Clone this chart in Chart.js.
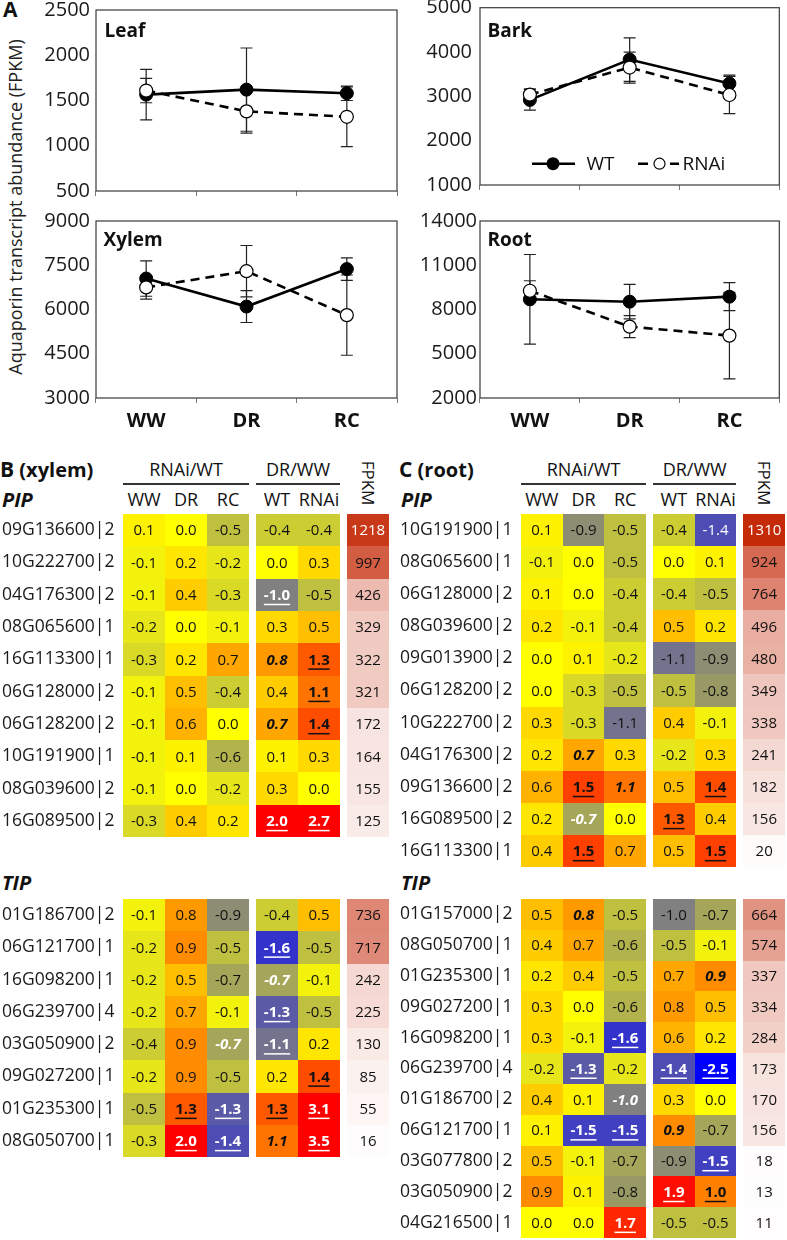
<!DOCTYPE html>
<html>
<head>
<meta charset="utf-8">
<title>Aquaporin transcript abundance</title>
<script src="https://cdn.jsdelivr.net/npm/chart.js@4.4.1/dist/chart.umd.min.js"></script>
<style>
  html, body { margin: 0; padding: 0; background: #fff; }
  body { position: relative; width: 787px; height: 1240px; overflow: hidden; font-family: "Open Sans", sans-serif; color: #111; }
  canvas { position: absolute; }
  .t { position: absolute; line-height: 1; white-space: nowrap; }
  .b { font-weight: bold; }
</style>
</head>
<body>
<!-- panel A -->
<div class="t b" style="left:3px;top:-1px;font-size:21px">A</div>
<div class="t" style="left:15px;top:207px;font-size:18px;color:#222;transform:translate(-50%,-50%) rotate(-90deg)">Aquaporin transcript abundance (FPKM)</div>
<canvas id="leaf" width="385" height="200" style="left:20px;top:0px"></canvas>
<canvas id="bark" width="383" height="200" style="left:404px;top:0px"></canvas>
<canvas id="xylem" width="385" height="235" style="left:20px;top:205px"></canvas>
<canvas id="root" width="383" height="235" style="left:404px;top:205px"></canvas>
<div class="t b" style="left:104.5px;top:21px;font-size:19px">Leaf</div>
<div class="t b" style="left:487.5px;top:21px;font-size:19px">Bark</div>
<div class="t b" style="left:103.5px;top:229.5px;font-size:19px">Xylem</div>
<div class="t b" style="left:487.5px;top:229.5px;font-size:19px">Root</div>
<div class="t" style="left:586.5px;top:153.5px;font-size:19px">WT</div>
<div class="t" style="left:682.5px;top:153.5px;font-size:19px">RNAi</div>

<!-- panels B and C -->
<div class="t b" style="left:0px;top:459px;font-size:20px"><span style="font-size:21px">B</span> (xylem)</div>
<div class="t b" style="left:399px;top:459px;font-size:20px"><span style="font-size:21px">C</span> (root)</div>
<div class="t b" style="left:2px;top:489.5px;font-size:20px;font-style:italic">PIP</div>
<div class="t b" style="left:401px;top:489.5px;font-size:20px;font-style:italic">PIP</div>
<div class="t b" style="left:2px;top:872.5px;font-size:20px;font-style:italic">TIP</div>
<div class="t b" style="left:401px;top:872.5px;font-size:20px;font-style:italic">TIP</div>
<canvas id="xylemPip" width="395" height="327" style="left:0px;top:512px"></canvas>
<canvas id="rootPip" width="389" height="357" style="left:398px;top:512px"></canvas>
<canvas id="xylemTip" width="395" height="262" style="left:0px;top:897px"></canvas>
<canvas id="rootTip" width="389" height="343" style="left:398px;top:897px"></canvas>

<script>
// ---- panel A data (FPKM, mean and error) ----
const stages = ['WW', 'DR', 'RC'];

const leafWT = [1565, 1620, 1580];
const leafWTErr = [280, 460, 80];
const leafRNAi = [1610, 1380, 1320];
const leafRNAiErr = [135, 240, 330];

const barkWT = [2920, 3830, 3290];
const barkWTErr = [230, 490, 190];
const barkRNAi = [3040, 3650, 3030];
const barkRNAiErr = [130, 350, 420];

const xylemWT = [7050, 6100, 7370];
const xylemWTErr = [600, 540, 380];
const xylemRNAi = [6750, 7300, 5810];
const xylemRNAiErr = [400, 870, 1360];

const rootWT = [8690, 8530, 8870];
const rootWTErr = [3040, 1170, 950];
const rootRNAi = [9270, 6840, 6230];
const rootRNAiErr = [680, 750, 2930];

// ---- panels B / C data: log2 ratios [RNAi/WT: WW, DR, RC | DR/WW: WT, RNAi], FPKM ----
// marks: '.' plain, 'b' bold underlined, 'i' bold italic
const ratioCols = ['WW', 'DR', 'RC', 'WT', 'RNAi'];

const xylemPipGenes = ['09G136600|2', '10G222700|2', '04G176300|2', '08G065600|1', '16G113300|1',
  '06G128000|2', '06G128200|2', '10G191900|1', '08G039600|2', '16G089500|2'];
const xylemPipRatios = [
  [0.1, 0.0, -0.5, -0.4, -0.4],
  [-0.1, 0.2, -0.2, 0.0, 0.3],
  [-0.1, 0.4, -0.3, -1.0, -0.5],
  [-0.2, 0.0, -0.1, 0.3, 0.5],
  [-0.3, 0.2, 0.7, 0.8, 1.3],
  [-0.1, 0.5, -0.4, 0.4, 1.1],
  [-0.1, 0.6, 0.0, 0.7, 1.4],
  [-0.1, 0.1, -0.6, 0.1, 0.3],
  [-0.1, 0.0, -0.2, 0.3, 0.0],
  [-0.3, 0.4, 0.2, 2.0, 2.7]
];
const xylemPipMarks = ['.....', '.....', '...b.', '.....', '...ib', '....b', '...ib', '.....', '.....', '...bb'];
const xylemPipFpkm = [1218, 997, 426, 329, 322, 321, 172, 164, 155, 125];

const xylemTipGenes = ['01G186700|2', '06G121700|1', '16G098200|1', '06G239700|4', '03G050900|2',
  '09G027200|1', '01G235300|1', '08G050700|1'];
const xylemTipRatios = [
  [-0.1, 0.8, -0.9, -0.4, 0.5],
  [-0.2, 0.9, -0.5, -1.6, -0.5],
  [-0.2, 0.5, -0.7, -0.7, -0.1],
  [-0.2, 0.7, -0.1, -1.3, -0.5],
  [-0.4, 0.9, -0.7, -1.1, 0.2],
  [-0.2, 0.9, -0.5, 0.2, 1.4],
  [-0.5, 1.3, -1.3, 1.3, 3.1],
  [-0.3, 2.0, -1.4, 1.1, 3.5]
];
const xylemTipMarks = ['.....', '...b.', '...i.', '...b.', '..ib.', '....b', '.bbbb', '.bbib'];
const xylemTipFpkm = [736, 717, 242, 225, 130, 85, 55, 16];

const rootPipGenes = ['10G191900|1', '08G065600|1', '06G128000|2', '08G039600|2', '09G013900|2',
  '06G128200|2', '10G222700|2', '04G176300|2', '09G136600|2', '16G089500|2', '16G113300|1'];
const rootPipRatios = [
  [0.1, -0.9, -0.5, -0.4, -1.4],
  [-0.1, 0.0, -0.5, 0.0, 0.1],
  [0.1, 0.0, -0.4, -0.4, -0.5],
  [0.2, -0.1, -0.4, 0.5, 0.2],
  [0.0, 0.1, -0.2, -1.1, -0.9],
  [0.0, -0.3, -0.5, -0.5, -0.8],
  [0.3, -0.3, -1.1, 0.4, -0.1],
  [0.2, 0.7, 0.3, -0.2, 0.3],
  [0.6, 1.5, 1.1, 0.5, 1.4],
  [0.2, -0.7, 0.0, 1.3, 0.4],
  [0.4, 1.5, 0.7, 0.5, 1.5]
];
const rootPipMarks = ['.....', '.....', '.....', '.....', '.....', '.....', '.....', '.i...', '.bi.b', '.i.b.', '.b..b'];
const rootPipFpkm = [1310, 924, 764, 496, 480, 349, 338, 241, 182, 156, 20];

const rootTipGenes = ['01G157000|2', '08G050700|1', '01G235300|1', '09G027200|1', '16G098200|1',
  '06G239700|4', '01G186700|2', '06G121700|1', '03G077800|2', '03G050900|2', '04G216500|1'];
const rootTipRatios = [
  [0.5, 0.8, -0.5, -1.0, -0.7],
  [0.4, 0.7, -0.6, -0.5, -0.1],
  [0.2, 0.4, -0.5, 0.7, 0.9],
  [0.3, 0.0, -0.6, 0.8, 0.5],
  [0.3, -0.1, -1.6, 0.6, 0.2],
  [-0.2, -1.3, -0.2, -1.4, -2.5],
  [0.4, 0.1, -1.0, 0.3, 0.0],
  [0.1, -1.5, -1.5, 0.9, -0.7],
  [0.5, -0.1, -0.7, -0.9, -1.5],
  [0.9, 0.1, -0.8, 1.9, 1.0],
  [0.0, 0.0, 1.7, -0.5, -0.5]
];
const rootTipMarks = ['.i...', '.....', '....i', '.....', '..b..', '.b.bb', '..i..', '.bbi.', '....b', '...bb', '..b..'];
const rootTipFpkm = [664, 574, 337, 334, 284, 173, 170, 156, 18, 13, 11];

// ---- layout helpers ----
Chart.defaults.font.family = '"Open Sans", sans-serif';
Chart.defaults.color = '#111';

// heat table columns: 3 + 2 + 1 cells, with a small gap between blocks
const GAP = 7 / 42;
const COL_BLOCK = [0, 0, 0, 1, 1, 2];
const colStart = c => c + COL_BLOCK[c] * GAP;
const colCenter = c => colStart(c) + 0.5;

function ratioColor(v) {
  if (v >= 0) {
    const t = Math.min(v / 2, 1);
    return `rgb(255,${Math.round(255 * (1 - t))},0)`;
  }
  const a = -v;
  if (a <= 1) {
    const g = Math.round(255 - 127 * a);
    return `rgb(${g},${g},${Math.round(128 * a)})`;
  }
  const t = Math.min(a - 1, 1);
  const g = Math.round(128 - 128 * t);
  return `rgb(${g},${g},${Math.round(128 + 127 * t)})`;
}

function fpkmColor(v) {
  const t = Math.min(v / 1310, 1);
  return `rgb(${Math.round(255 - 59 * t)},${Math.round(255 - 213 * t)},${Math.round(255 - 247 * t)})`;
}

function whiteText(v, m) {
  if (v <= -1.4) return true;
  return m !== '.' && (v <= -0.7 || v >= 1.7);
}

// keep tick labels from pushing the plot area inwards
function noPad(s) {
  s.paddingTop = 0;
  s.paddingBottom = 0;
  s.paddingLeft = 0;
  s.paddingRight = 0;
}

// ---- plugins ----
const framePlugin = {
  id: 'frame',
  beforeDatasetsDraw(chart) {
    const { ctx, chartArea: a } = chart;
    ctx.save();
    ctx.strokeStyle = '#3a3a3a';
    ctx.lineWidth = 1.2;
    ctx.strokeRect(a.left, a.top, a.right - a.left, a.bottom - a.top);
    ctx.restore();
  }
};

const errorBarPlugin = {
  id: 'errorBars',
  beforeDatasetsDraw(chart) {
    const { ctx } = chart;
    const ys = chart.scales.y;
    ctx.save();
    ctx.strokeStyle = '#222';
    ctx.lineWidth = 1.2;
    chart.data.datasets.forEach((ds, i) => {
      chart.getDatasetMeta(i).data.forEach((pt, j) => {
        const top = ys.getPixelForValue(ds.data[j] + ds.errors[j]);
        const bot = ys.getPixelForValue(ds.data[j] - ds.errors[j]);
        ctx.beginPath();
        ctx.moveTo(pt.x, top); ctx.lineTo(pt.x, bot);
        ctx.moveTo(pt.x - 6, top); ctx.lineTo(pt.x + 6, top);
        ctx.moveTo(pt.x - 6, bot); ctx.lineTo(pt.x + 6, bot);
        ctx.stroke();
      });
    });
    ctx.restore();
  }
};

// legend symbols inside the Bark panel (texts are html)
const legendMarks = {
  id: 'legendMarks',
  afterDatasetsDraw(chart) {
    const { ctx, chartArea: a } = chart;
    const y = a.top + 156;
    ctx.save();
    ctx.strokeStyle = '#000';
    ctx.lineWidth = 2.6;
    ctx.beginPath();
    ctx.moveTo(a.left + 52, y); ctx.lineTo(a.left + 95, y);
    ctx.moveTo(a.left + 158, y); ctx.lineTo(a.left + 168, y);
    ctx.moveTo(a.left + 190, y); ctx.lineTo(a.left + 199, y);
    ctx.stroke();
    ctx.fillStyle = '#000';
    ctx.beginPath(); ctx.arc(a.left + 73, y, 6.5, 0, Math.PI * 2); ctx.fill();
    ctx.fillStyle = '#fff';
    ctx.lineWidth = 1.2;
    ctx.beginPath(); ctx.arc(a.left + 179.5, y, 5.5, 0, Math.PI * 2); ctx.fill(); ctx.stroke();
    ctx.restore();
  }
};

const cellPlugin = {
  id: 'cells',
  afterDatasetsDraw(chart) {
    const { ctx } = chart;
    const xs = chart.scales.x, ys = chart.scales.y;
    const ds = chart.data.datasets[0];
    const meta = chart.getDatasetMeta(0);
    const halfW = (xs.getPixelForValue(1) - xs.getPixelForValue(0)) / 2;
    const halfH = Math.abs(ys.getPixelForValue(1) - ys.getPixelForValue(0)) / 2;
    ctx.save();
    meta.data.forEach((pt, i) => {
      const d = ds.data[i];
      const x0 = Math.round(pt.x - halfW), x1 = Math.round(pt.x + halfW);
      const y0 = Math.round(pt.y - halfH), y1 = Math.round(pt.y + halfH);
      ctx.fillStyle = d.kind === 'fpkm' ? fpkmColor(d.v) : ratioColor(d.v);
      ctx.fillRect(x0, y0, x1 - x0, y1 - y0);
    });
    ctx.textAlign = 'center';
    ctx.textBaseline = 'middle';
    meta.data.forEach((pt, i) => {
      const d = ds.data[i];
      const txt = d.kind === 'fpkm' ? String(d.v) : d.v.toFixed(1);
      const white = d.kind === 'fpkm' ? d.v > 1100 : whiteText(d.v, d.m);
      ctx.font = (d.m === 'i' ? 'italic bold ' : d.m === 'b' ? 'bold ' : '') + '15px "Open Sans"';
      ctx.fillStyle = white ? '#fff' : '#111';
      ctx.fillText(txt, pt.x, pt.y + 1);
      if (d.m === 'b') {
        const w = ctx.measureText(txt).width;
        ctx.fillRect(pt.x - w / 2, pt.y + 9, w, 1.5);
      }
    });
    ctx.restore();
  }
};

// ---- chart builders ----
function makeLine(id, wt, wtErr, rnai, rnaiErr, yMin, yMax, yStep, box, extra) {
  return new Chart(document.getElementById(id), {
    type: 'line',
    data: {
      labels: stages,
      datasets: [
        { label: 'WT', data: wt, errors: wtErr, order: 1,
          borderColor: '#000', borderWidth: 2.6,
          pointRadius: 6.5, pointBackgroundColor: '#000', pointBorderColor: '#000', pointBorderWidth: 1 },
        { label: 'RNAi', data: rnai, errors: rnaiErr, order: 0,
          borderColor: '#000', borderWidth: 2.6, borderDash: [9, 6],
          pointRadius: 6.5, pointBackgroundColor: '#fff', pointBorderColor: '#000', pointBorderWidth: 1.2 }
      ]
    },
    options: {
      responsive: false,
      animation: false,
      events: [],
      layout: { padding: { top: box.top, right: box.right, left: 0, bottom: 0 } },
      plugins: { legend: { display: false }, tooltip: { enabled: false } },
      scales: {
        x: {
          offset: true,
          grid: { offset: true, drawOnChartArea: false, drawTicks: true, tickLength: 5, color: '#777' },
          border: { display: false },
          ticks: { display: box.labels, padding: 6, color: '#111', font: { size: 20, weight: 'bold' } },
          afterFit: s => { s.height = box.xh; noPad(s); }
        },
        y: {
          min: yMin, max: yMax,
          grid: { display: false, drawTicks: false },
          border: { display: false },
          ticks: { stepSize: yStep, padding: box.tp, color: '#1a1a1a', font: { size: 20 }, callback: v => String(v) },
          afterFit: s => { s.width = 76; noPad(s); }
        }
      }
    },
    plugins: [framePlugin, errorBarPlugin].concat(extra || [])
  });
}

function heatPoints(genes, ratios, marks, fpkm) {
  const pts = [];
  genes.forEach((g, r) => {
    ratios[r].forEach((v, c) => pts.push({ x: colCenter(c), y: g, v: v, m: marks[r][c], kind: 'ratio' }));
    pts.push({ x: colCenter(5), y: g, v: fpkm[r], m: '.', kind: 'fpkm' });
  });
  return pts;
}

function makeHeat(id, genes, ratios, marks, fpkm, rightPad) {
  return new Chart(document.getElementById(id), {
    type: 'scatter',
    data: { datasets: [{ data: heatPoints(genes, ratios, marks, fpkm), pointRadius: 0, pointHoverRadius: 0 }] },
    options: {
      responsive: false,
      animation: false,
      events: [],
      layout: { padding: { left: 2, right: rightPad, top: 2, bottom: 2 } },
      plugins: { legend: { display: false }, tooltip: { enabled: false } },
      scales: {
        x: { type: 'linear', min: 0, max: 6 + 2 * GAP, display: false },
        y: {
          type: 'category', labels: genes, offset: true,
          grid: { display: false, drawTicks: false },
          border: { display: false },
          ticks: { autoSkip: false, crossAlign: 'far', padding: 0, color: '#1a1a1a', font: { size: 17.5 } },
          afterFit: s => { s.width = 121; noPad(s); }
        }
      }
    },
    plugins: [cellPlugin]
  });
}

function addText(text, x, capY, size, css) {
  const d = document.createElement('div');
  d.className = 't';
  d.textContent = text;
  d.style.fontSize = size + 'px';
  d.style.left = x + 'px';
  d.style.top = (capY - 0.531 * size) + 'px';
  d.style.transform = 'translateX(-50%)';
  if (css) d.style.cssText += css;
  document.body.appendChild(d);
  return d;
}

function addHeaders(chart, left) {
  const xs = chart.scales.x;
  const px = v => left + xs.getPixelForValue(v);
  [['RNAi/WT', 0, 2], ['DR/WW', 3, 4]].forEach(([name, from, to]) => {
    const x0 = px(colStart(from)), x1 = px(colStart(to) + 1);
    addText(name, (x0 + x1) / 2, 469.5, 18);
    const line = document.createElement('div');
    line.style.cssText = `position:absolute;left:${x0}px;top:483px;width:${x1 - x0}px;height:2px;background:#333`;
    document.body.appendChild(line);
  });
  ratioCols.forEach((name, c) => addText(name, px(colCenter(c)), 500, 18));
  const f = addText('FPKM', px(colCenter(5)), 483, 17);
  f.style.top = '483px';
  f.style.transform = 'translate(-50%,-50%) rotate(90deg)';
}

// ---- build ----
document.addEventListener('DOMContentLoaded', () => {
  makeLine('leaf', leafWT, leafWTErr, leafRNAi, leafRNAiErr, 500, 2500, 500,
    { top: 10, right: 8, xh: 9, tp: 6, labels: false });
  makeLine('bark', barkWT, barkWTErr, barkRNAi, barkRNAiErr, 1000, 5000, 1000,
    { top: 7, right: 4, xh: 15, tp: 8, labels: false }, [legendMarks]);
  makeLine('xylem', xylemWT, xylemWTErr, xylemRNAi, xylemRNAiErr, 3000, 9000, 1500,
    { top: 16, right: 8, xh: 42, tp: 6, labels: true });
  makeLine('root', rootWT, rootWTErr, rootRNAi, rootRNAiErr, 2000, 14000, 3000,
    { top: 16, right: 3, xh: 42, tp: 3, labels: true });

  const bPip = makeHeat('xylemPip', xylemPipGenes, xylemPipRatios, xylemPipMarks, xylemPipFpkm, 6);
  makeHeat('xylemTip', xylemTipGenes, xylemTipRatios, xylemTipMarks, xylemTipFpkm, 6);
  const cPip = makeHeat('rootPip', rootPipGenes, rootPipRatios, rootPipMarks, rootPipFpkm, 2);
  makeHeat('rootTip', rootTipGenes, rootTipRatios, rootTipMarks, rootTipFpkm, 2);

  addHeaders(bPip, 0);
  addHeaders(cPip, 398);
});
</script>
</body>
</html>
